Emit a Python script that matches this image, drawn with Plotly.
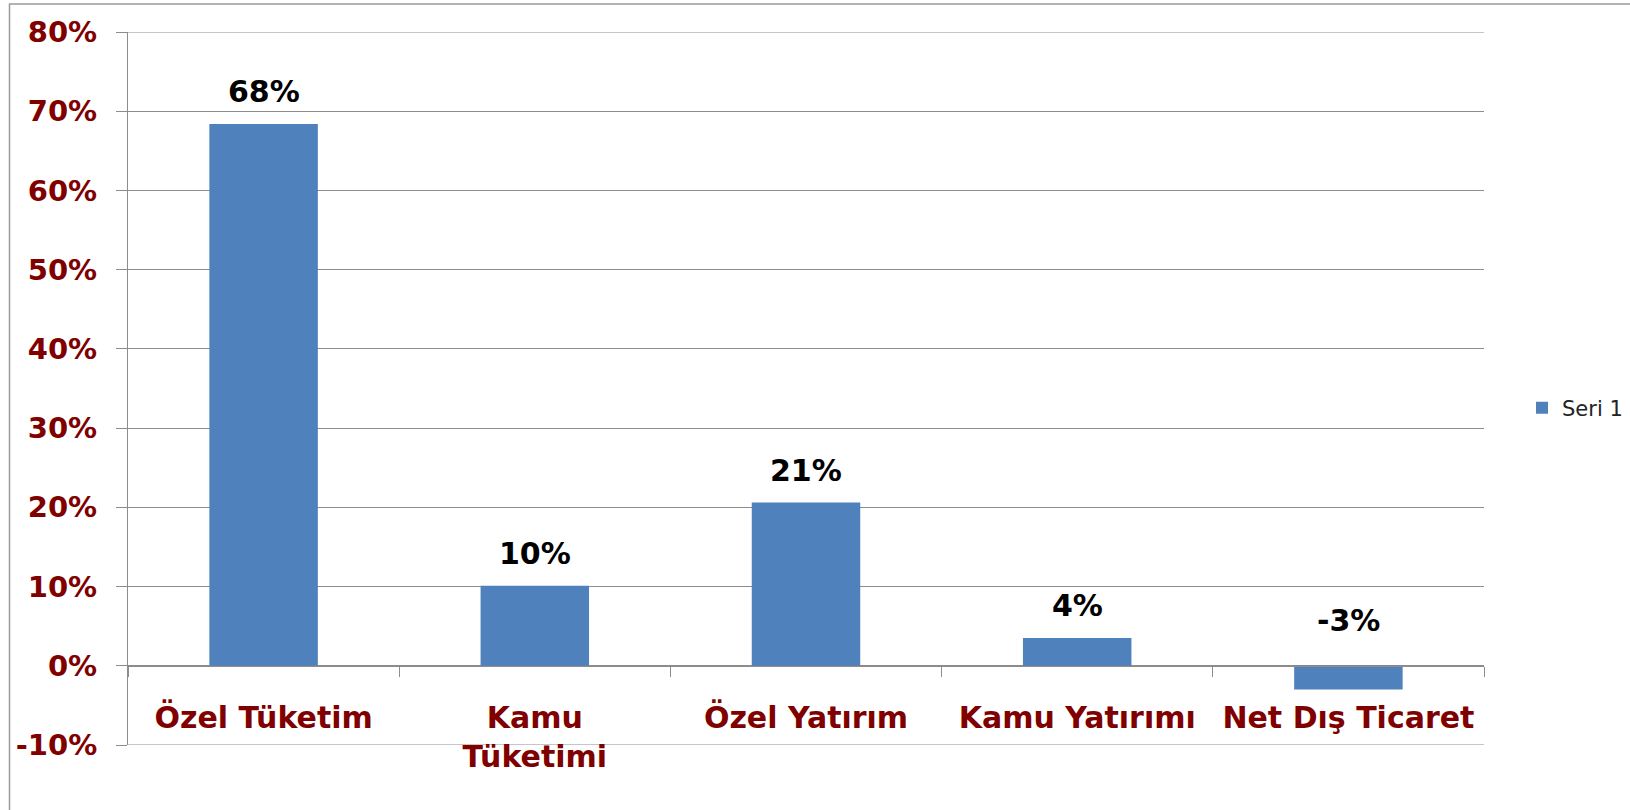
import plotly.graph_objects as go

categories = ["Özel Tüketim", "Kamu<br>Tüketimi", "Özel Yatırım", "Kamu Yatırımı", "Net Dış Ticaret"]
values = [68.4, 10.1, 20.6, 3.5, -3.0]
value_labels = ["68%", "10%", "21%", "4%", "-3%"]
series_name = "Seri 1"
y_tick_vals = [-10, 0, 10, 20, 30, 40, 50, 60, 70, 80]
y_tick_text = ["-10%", "0%", "10%", "20%", "30%", "40%", "50%", "60%", "70%", "80%"]

W, H = 1630, 810
ML, MR, MT, MB = 128, 146, 32, 65
PW, PH = W - ML - MR, H - MT - MB
ymin, ymax = y_tick_vals[0], y_tick_vals[-1]

GRID = "#8c8c8c"
RED = "#800000"
BLUE = "#4F81BD"

fig = go.Figure()
fig.add_trace(go.Bar(
    x=categories, y=values, name=series_name,
    marker=dict(color=BLUE, line=dict(width=0)),
    hoverinfo="skip", showlegend=True,
))

for c, v, t in zip(categories, values, value_labels):
    fig.add_annotation(
        x=c, y=max(v, 0), xref="x", yref="y", text=t, showarrow=False,
        yanchor="bottom", yshift=13 if v >= 0 else 26,
        font=dict(family="DejaVu Sans", size=30, color="#000000", weight="bold"),
    )

# gridlines at the range ends (plotly drops them at the plot edges)
for yv in (ymin, ymax):
    fig.add_shape(type="line", xref="paper", yref="y", x0=0, x1=1, y0=yv, y1=yv,
                  line=dict(color=GRID, width=1), layer="below")

# chart frame border
fig.add_shape(type="rect", xref="paper", yref="paper",
              x0=(9.5 - ML) / PW, x1=(W + 20 - ML) / PW,
              y0=-(H + 20 - MT - PH) / PH, y1=(H - MB - 4) / PH,
              line=dict(color="#9a9a9a", width=1.5), fillcolor="rgba(0,0,0,0)", layer="below")

fig.update_layout(
    width=W, height=H,
    margin=dict(l=ML, r=MR, t=MT, b=MB, autoexpand=False),
    paper_bgcolor="white", plot_bgcolor="white",
    bargap=0.6,
    showlegend=True,
    legend=dict(x=(1522 - ML) / PW, y=(H - MB - 408) / PH, xanchor="left", yanchor="middle",
                font=dict(family="DejaVu Sans", size=21, color="#222222"),
                bgcolor="rgba(0,0,0,0)", borderwidth=0),
    xaxis=dict(
        type="category", range=[-0.5, 4.5],
        anchor="free", position=(0 - ymin) / (ymax - ymin),
        showline=True, linecolor=GRID, linewidth=1,
        showgrid=False, zeroline=False,
        ticks="outside", tickson="boundaries", ticklen=10, tickcolor=GRID, tickwidth=1,
        ticklabelstandoff=25,
        tickfont=dict(family="DejaVu Sans", size=30, color=RED, weight="bold"),
    ),
    yaxis=dict(
        range=[ymin, ymax],
        tickvals=y_tick_vals, ticktext=y_tick_text,
        showline=True, linecolor=GRID, linewidth=1,
        showgrid=True, gridcolor=GRID, gridwidth=1,
        zeroline=True, zerolinecolor=GRID, zerolinewidth=1,
        ticks="outside", ticklen=11, tickcolor=GRID, tickwidth=1,
        ticklabelstandoff=13,
        tickfont=dict(family="DejaVu Sans", size=29, color=RED, weight="bold"),
    ),
)

fig.write_html("out.html", config={"displayModeBar": False},
               post_script="document.body.style.margin='0';document.body.style.overflow='hidden';")
